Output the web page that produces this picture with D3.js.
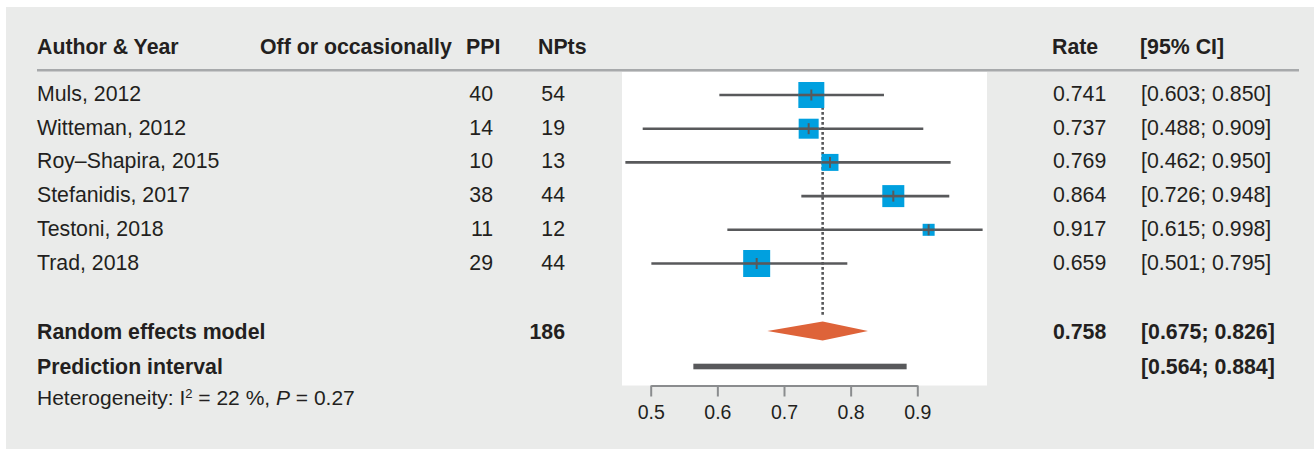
<!DOCTYPE html>
<html>
<head>
<meta charset="utf-8">
<script src="https://cdn.jsdelivr.net/npm/d3@7"></script>
<style>
  html, body { margin: 0; padding: 0; background: #fff; }
  svg text { font-family: "Liberation Sans", Arial, sans-serif; fill: #231f20; }
</style>
</head>
<body>
<svg id="forest" width="1314" height="449"></svg>
<script>
(function() {

  // study rows
  var studies = ["Muls, 2012", "Witteman, 2012", "Roy\u2013Shapira, 2015", "Stefanidis, 2017", "Testoni, 2018", "Trad, 2018"];
  var events = [40, 14, 10, 38, 11, 29];
  var totals = [54, 19, 13, 44, 12, 44];
  var rates = [0.741, 0.737, 0.769, 0.864, 0.917, 0.659];
  var lower = [0.603, 0.488, 0.462, 0.726, 0.615, 0.501];
  var upper = [0.850, 0.909, 0.950, 0.948, 0.998, 0.795];
  var weights = [24.8, 14.7, 10.6, 17.8, 5.3, 26.8];

  // pooled estimate
  var pooled = { total: 186, rate: 0.758, lower: 0.675, upper: 0.826 };
  var prediction = [0.564, 0.884];
  var axisTicks = [0.5, 0.6, 0.7, 0.8, 0.9];

  var headers = [
    { text: "Author & Year", x: 37 },
    { text: "Off or occasionally", x: 260 },
    { text: "PPI", x: 466 },
    { text: "NPts", x: 538 },
    { text: "Rate", x: 1052 },
    { text: "[95% CI]", x: 1140 }
  ];

  var fmt = d3.format(".3f");
  var lineCol = "#58595b";
  var svg = d3.select("#forest");

  // gray background
  svg.append("rect")
    .attr("x", 6).attr("y", 7)
    .attr("width", 1308).attr("height", 442)
    .style("fill", "#eaebea");

  var x = d3.scaleLinear().domain([0.5, 0.9]).range([650.7, 917.3]);
  var y = d3.scalePoint().domain(studies).range([95, 263.5]);
  var size = d3.scaleSqrt().domain([0, d3.max(weights)]).range([0, 27]);
  var yPooled = 331, yPred = 366.5;

  // white plot panel
  svg.append("rect")
    .attr("x", 622).attr("y", 72)
    .attr("width", 365).attr("height", 313.5)
    .style("fill", "#fff");

  // header
  svg.selectAll("text.head")
    .data(headers)
    .enter().append("text")
    .attr("class", "head")
    .attr("x", function(d) { return d.x; })
    .attr("y", 54)
    .style("font-size", "21.3px")
    .style("font-weight", "bold")
    .text(function(d) { return d.text; });

  svg.append("line")
    .attr("x1", 37).attr("x2", 1299)
    .attr("y1", 70.3).attr("y2", 70.3)
    .style("stroke", "#a7a9ab")
    .style("stroke-width", 2.5);

  // reference line at pooled estimate
  svg.append("line")
    .attr("x1", x(pooled.rate)).attr("x2", x(pooled.rate))
    .attr("y1", 82).attr("y2", 317)
    .style("stroke", lineCol)
    .style("stroke-width", 2.6)
    .style("stroke-dasharray", "2.8,2.2");

  var rows = svg.selectAll("g.study")
    .data(studies)
    .enter().append("g")
    .attr("class", "study");

  rows.append("line")
    .attr("x1", function(d, i) { return x(lower[i]); })
    .attr("x2", function(d, i) { return x(upper[i]); })
    .attr("y1", function(d) { return y(d); })
    .attr("y2", function(d) { return y(d); })
    .style("stroke", lineCol)
    .style("stroke-width", 2.6);

  rows.append("rect")
    .attr("x", function(d, i) { return x(rates[i]) - size(weights[i]) / 2; })
    .attr("y", function(d, i) { return y(d) - size(weights[i]) / 2; })
    .attr("width", function(d, i) { return size(weights[i]); })
    .attr("height", function(d, i) { return size(weights[i]); })
    .style("fill", "#00a0df");

  // CI line and estimate tick drawn across the square
  rows.append("line")
    .attr("x1", function(d, i) { return x(rates[i]) - size(weights[i]) / 2; })
    .attr("x2", function(d, i) { return x(rates[i]) + size(weights[i]) / 2; })
    .attr("y1", function(d) { return y(d); })
    .attr("y2", function(d) { return y(d); })
    .style("stroke", lineCol)
    .style("stroke-width", 2.6);

  rows.append("line")
    .attr("x1", function(d, i) { return x(rates[i]); })
    .attr("x2", function(d, i) { return x(rates[i]); })
    .attr("y1", function(d) { return y(d) - 5.5; })
    .attr("y2", function(d) { return y(d) + 5.5; })
    .style("stroke", lineCol)
    .style("stroke-width", 2);

  // row texts
  function rowText(g, xPos, anchor, fn) {
    g.append("text")
      .attr("x", xPos)
      .attr("y", function(d) { return y(d) + 6; })
      .attr("text-anchor", anchor)
      .style("font-size", "21.3px")
      .text(fn);
  }
  rowText(rows, 37, "start", function(d) { return d; });
  rowText(rows, 493, "end", function(d, i) { return events[i]; });
  rowText(rows, 565, "end", function(d, i) { return totals[i]; });
  rowText(rows, 1053, "start", function(d, i) { return fmt(rates[i]); });
  rowText(rows, 1141, "start", function(d, i) { return "[" + fmt(lower[i]) + "; " + fmt(upper[i]) + "]"; });

  // random effects diamond
  svg.append("path")
    .attr("d", "M" + x(pooled.lower) + "," + yPooled +
      "L" + x(pooled.rate) + "," + (yPooled - 9.5) +
      "L" + x(pooled.upper) + "," + yPooled +
      "L" + x(pooled.rate) + "," + (yPooled + 9.5) + "Z")
    .style("fill", "#de6339");

  // prediction interval
  svg.append("rect")
    .attr("x", x(prediction[0]))
    .attr("y", yPred - 2.8)
    .attr("width", x(prediction[1]) - x(prediction[0]))
    .attr("height", 5.6)
    .style("fill", lineCol);

  var bold = [
    { text: "Random effects model", x: 37, y: yPooled, anchor: "start" },
    { text: pooled.total, x: 565, y: yPooled, anchor: "end" },
    { text: fmt(pooled.rate), x: 1053, y: yPooled, anchor: "start" },
    { text: "[" + fmt(pooled.lower) + "; " + fmt(pooled.upper) + "]", x: 1141, y: yPooled, anchor: "start" },
    { text: "Prediction interval", x: 37, y: yPred, anchor: "start" },
    { text: "[" + fmt(prediction[0]) + "; " + fmt(prediction[1]) + "]", x: 1141, y: yPred, anchor: "start" }
  ];
  svg.selectAll("text.pooled")
    .data(bold)
    .enter().append("text")
    .attr("class", "pooled")
    .attr("x", function(d) { return d.x; })
    .attr("y", function(d) { return d.y + 7.5; })
    .attr("text-anchor", function(d) { return d.anchor; })
    .style("font-size", "21.3px")
    .style("font-weight", "bold")
    .text(function(d) { return d.text; });

  // heterogeneity
  var het = svg.append("text")
    .attr("x", 37).attr("y", 405)
    .style("font-size", "21px");
  het.append("tspan").text("Heterogeneity: I");
  het.append("tspan").attr("dy", -7.5).style("font-size", "13px").text("2");
  het.append("tspan").attr("dy", 7.5).text(" = 22 %, ");
  het.append("tspan").style("font-style", "italic").text("P");
  het.append("tspan").text(" = 0.27");

  // x axis
  var axis = svg.append("g")
    .attr("transform", "translate(0,385.5)")
    .call(d3.axisBottom(x).tickValues(axisTicks).tickSize(11).tickSizeOuter(0)
      .tickFormat(d3.format(".1f")));
  axis.select(".domain").style("stroke", "#8a8c8e").style("stroke-width", 2);
  axis.selectAll(".tick line").style("stroke", "#8a8c8e").style("stroke-width", 2);
  axis.selectAll(".tick text")
    .attr("y", 33).attr("dy", 0)
    .style("font-size", "19.5px")
    .style("font-family", "Liberation Sans, Arial, sans-serif")
    .style("fill", "#231f20");

})();
</script>
</body>
</html>
